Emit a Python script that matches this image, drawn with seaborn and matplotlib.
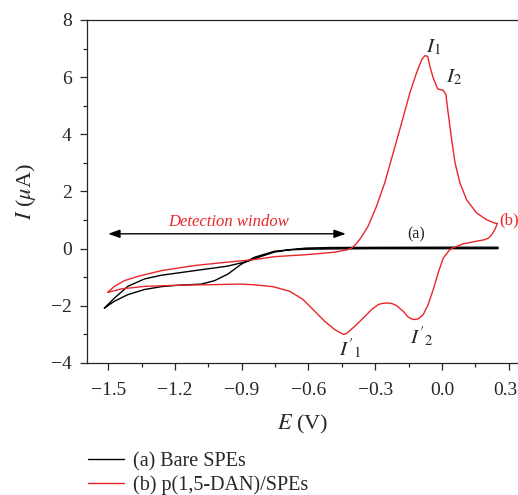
import numpy as np
import pandas as pd
import matplotlib
matplotlib.use("Agg")
import matplotlib.pyplot as plt
import matplotlib.transforms as mtransforms
import seaborn as sns

# ---- data ----
bare_E = [-1.517, -1.472, -1.412, -1.337, -1.261, -1.112, -0.962, -0.872, -0.812, -0.752, -0.68, -0.609, -0.5,
          -0.3, 0.0, 0.252,
          0.252, 0.0, -0.3, -0.5, -0.609, -0.68, -0.752, -0.842, -0.901, -0.962, -1.022, -1.081, -1.187,
          -1.261, -1.337, -1.412, -1.472, -1.517]
bare_I = [-2.08, -1.73, -1.32, -1.06, -0.93, -0.77, -0.61, -0.44, -0.27, -0.12, -0.03, 0.02, 0.04,
          0.045, 0.05, 0.05,
          0.0, 0.0, 0.0, -0.01, -0.02, -0.04, -0.09, -0.30, -0.54, -0.89, -1.12, -1.24, -1.28,
          -1.33, -1.43, -1.61, -1.84, -2.08]

dan_E = [-1.502, -1.472, -1.427, -1.367, -1.261, -1.112, -0.962, -0.842, -0.752, -0.609, -0.489, -0.43,
         -0.405, -0.385, -0.365, -0.332, -0.294, -0.257, -0.219, -0.181, -0.144, -0.114, -0.091, -0.077,
         -0.064, -0.054, -0.039, -0.019, 0.006, 0.018, 0.028, 0.044, 0.059, 0.081, 0.111, 0.156, 0.201,
         0.235, 0.249, 0.24, 0.225, 0.21, 0.19, 0.156, 0.096, 0.059, 0.036, 0.006, -0.017, -0.039, -0.062,
         -0.084, -0.107, -0.129, -0.152, -0.174, -0.204, -0.225, -0.249, -0.27, -0.287, -0.316, -0.354,
         -0.392, -0.429, -0.44, -0.451, -0.482, -0.527, -0.579, -0.624, -0.684, -0.759, -0.849, -0.909,
         -1.037, -1.187, -1.337, -1.442, -1.502]
dan_I = [-1.53, -1.32, -1.12, -0.97, -0.77, -0.59, -0.47, -0.38, -0.28, -0.21, -0.13, -0.05,
         0.02, 0.17, 0.37, 0.78, 1.48, 2.30, 3.35, 4.40, 5.45, 6.15, 6.61, 6.75,
         6.73, 6.38, 5.97, 5.59, 5.54, 5.39, 4.75, 3.81, 3.00, 2.30, 1.71, 1.25, 1.01,
         0.90, 0.88, 0.70, 0.50, 0.37, 0.31, 0.26, 0.17, 0.06, -0.03, -0.33, -0.85, -1.43, -1.96,
         -2.31, -2.46, -2.48, -2.39, -2.19, -1.99, -1.92, -1.90, -1.92, -1.96, -2.13, -2.43,
         -2.72, -2.97, -3.00, -2.97, -2.83, -2.54, -2.13, -1.78, -1.49, -1.33, -1.26, -1.24,
         -1.26, -1.28, -1.32, -1.41, -1.53]

series_labels = ["(a) Bare SPEs", "(b) p(1,5-DAN)/SPEs"]
x_ticks = [-1.5, -1.2, -0.9, -0.6, -0.3, 0.0, 0.3]
y_ticks = [-4, -2, 0, 2, 4, 6, 8]

df = pd.concat([
    pd.DataFrame({"E": bare_E, "I": bare_I, "s": series_labels[0]}),
    pd.DataFrame({"E": dan_E, "I": dan_I, "s": series_labels[1]}),
], ignore_index=True)

sns.set_style("ticks")
plt.rcParams["font.family"] = ["Liberation Serif", "DejaVu Serif"]
plt.rcParams["mathtext.fontset"] = "stix"

RED = "#e8262a"
fig = plt.figure(figsize=(5.18, 4.95), dpi=100)
ax = fig.add_axes([0.168, 0.2667, 0.832, 0.6929])

for lab, col in zip(series_labels, ["black", RED]):
    sub = df[df["s"] == lab]
    sns.lineplot(data=sub, x="E", y="I", sort=False, estimator=None, color=col, lw=1.0, ax=ax, label=lab)

ax.set_xlim(-1.595, 0.342)
ax.set_ylim(-4, 8)
ax.set_xticks(x_ticks)
ax.set_xticklabels([f"{t:.1f}".replace("-", "\u2212") for t in x_ticks])
ax.set_yticks(y_ticks)
ax.set_yticklabels([str(t).replace("-", "\u2212") for t in y_ticks])
ax.set_xticks(np.arange(-1.5, 0.31, 0.15), minor=True)
ax.set_yticks(np.arange(-4, 8.1, 1), minor=True)
ax.tick_params(axis="both", which="major", length=5, width=0.9, labelsize=14, direction="out")
ax.tick_params(axis="y", which="major", pad=6)
ax.tick_params(axis="x", which="major", pad=8.5)
ax.tick_params(axis="both", which="minor", length=3, width=0.9, direction="out")
for s in ["top", "left", "bottom"]:
    ax.spines[s].set_linewidth(0.9)
ax.spines["right"].set_visible(False)
ax.spines["top"].set_visible(True)

# keep the last tick label inside the canvas
last = ax.get_xticklabels()[-1]
last.set_transform(last.get_transform() + mtransforms.ScaledTranslation(-3 / 100, 0, fig.dpi_scale_trans))

ax.set_xlabel("$E$ (V)", fontsize=16, labelpad=10)
ax.set_ylabel("$I$ ($\\mu$A)", fontsize=16, labelpad=9)

ax.text(-0.04, 7.05, "$I_1$", fontsize=15, ha="center", va="center")
ax.text(0.055, 5.98, "$I_2$", fontsize=15, ha="center", va="center")
ax.text(-0.41, -3.5, "$I'_1$", fontsize=15, ha="center", va="center")
ax.text(-0.09, -3.08, "$I'_2$", fontsize=15, ha="center", va="center")
ax.text(-0.117, 0.49, "(a)", fontsize=11.5, ha="center", va="center")
ax.text(0.258, 0.98, "(b)", fontsize=12, ha="left", va="center", color=RED)
ax.text(-0.96, 0.94, "Detection window", fontsize=12, style="italic", ha="center", va="center", color=RED)
ax.annotate("", xy=(-1.5, 0.52), xytext=(-0.432, 0.52),
            arrowprops=dict(arrowstyle="<|-|>,head_length=0.7,head_width=0.25", color="black", lw=1.0,
                            shrinkA=0, shrinkB=0))

ax.get_legend().remove()
h, l = ax.get_legend_handles_labels()
fig.legend(h, l, loc="lower left", bbox_to_anchor=(0.155, -0.016), frameon=False, fontsize=14.5,
           handlelength=1.75, handletextpad=0.45, labelspacing=0.2, borderaxespad=0)

fig.savefig("out.png", dpi=100)
